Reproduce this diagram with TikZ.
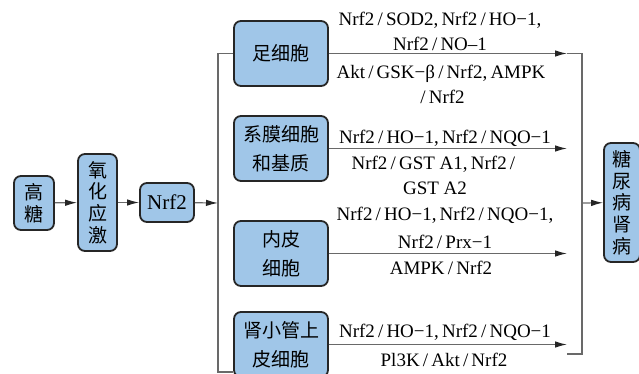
\documentclass[tikz,border=0pt]{standalone}
\usepackage{fontspec}
\setmainfont{Liberation Serif}
\newfontfamily\latin{Liberation Serif}
\newfontfamily\cjk{Noto Sans CJK SC}
\usetikzlibrary{arrows.meta,positioning}

\definecolor{boxblue}{RGB}{160,198,232}
\definecolor{linegray}{RGB}{105,105,105}
\newcommand{\pslash}{\,/\,}

\tikzset{
  cellbox/.style={draw=black!85, line width=1.8pt, rounded corners=7pt, fill=boxblue,
    inner sep=0pt, align=center, font=\cjk\fontsize{19}{29}\selectfont},
  vertbox/.style={cellbox, font=\cjk\fontsize{19}{21.7}\selectfont},
  link/.style={draw=linegray, line width=1.2pt},
  flow/.style={link, -{Latex[length=12pt,width=6.5pt,color=black!85]}},
  pathlabel/.style={font=\latin\fontsize{19}{25}\selectfont, inner sep=0pt, align=center}
}

\begin{document}
\begin{tikzpicture}[x=1pt,y=-1pt]
  \useasboundingbox (0,0) rectangle (639,374);

  % Left chain
  \node[vertbox, minimum width=40pt, minimum height=54pt] (gao) at (34,203) {高\\糖};
  \node[vertbox, minimum width=39pt, minimum height=97pt] (yang) at (97.5,202.5) {氧\\化\\应\\激};
  \node[cellbox, font=\latin\fontsize{21}{22}\selectfont, minimum width=54pt, minimum height=39pt] (nrf) at (167,202.5) {Nrf2};

  % Cell types
  \node[cellbox, minimum width=94pt, minimum height=65pt] (zu) at (281,53.5) {足细胞};
  \node[cellbox, minimum width=94pt, minimum height=65pt] (xi) at (281,148.5) {系膜细胞\\和基质};
  \node[cellbox, minimum width=94pt, minimum height=65pt] (nei) at (281,253.5) {内皮\\细胞};
  \node[cellbox, minimum width=94pt, minimum height=65pt] (shen) at (281,344.5) {肾小管上\\皮细胞};

  % Outcome
  \node[vertbox, minimum width=36pt, minimum height=119pt] (tnb) at (622,202.5) {糖\\尿\\病\\肾\\病};

  % Bracket points
  \coordinate (lbar) at (218,203);
  \coordinate (lbarBot) at (218,372);
  \coordinate (rbar) at (582,203);
  \coordinate (rbarBot) at (582,354);
  \coordinate (tip) at (567,203);
  \coordinate (tipBot) at (567,354);

  \draw[flow] (gao) -- (yang);
  \draw[flow] (yang) -- (nrf);
  \draw[flow] (nrf) -- (lbar);
  \draw[link] (zu.west) -| (lbarBot) -- (lbarBot -| shen.west);

  \foreach \cell in {zu,xi,nei,shen}
    \draw[flow] (\cell.east) -- (\cell.east -| tip);

  \draw[link] (zu.east -| tip) -| (rbarBot) -- (tipBot);
  \draw[flow] (rbar) -- (tnb);

  % Pathway labels
  \node[pathlabel] (zuUp) at (440,31) {Nrf2\pslash SOD2,\,Nrf2\pslash HO−1,\\Nrf2\pslash NO–1};
  \node[pathlabel] (zuDown) at (441,84) {Akt\pslash GSK−β\pslash Nrf2,\,AMPK\\\pslash Nrf2};
  \node[pathlabel] (xiUp) at (445,138) {Nrf2\pslash HO−1,\,Nrf2\pslash NQO−1};
  \node[pathlabel] (xiDown) at (435,175.5) {Nrf2\pslash GST A1,\,Nrf2\pslash\\GST A2};
  \node[pathlabel, font=\latin\fontsize{19}{28}\selectfont] (neiUp) at (445,227.5) {Nrf2\pslash HO−1,\,Nrf2\pslash NQO−1,\\Nrf2\pslash Prx−1};
  \node[pathlabel] (neiDown) at (441,268) {AMPK\pslash Nrf2};
  \node[pathlabel] (shenUp) at (445,332) {Nrf2\pslash HO−1,\,Nrf2\pslash NQO−1};
  \node[pathlabel] (shenDown) at (444,360) {Pl3K\pslash Akt\pslash Nrf2};
\end{tikzpicture}
\end{document}
